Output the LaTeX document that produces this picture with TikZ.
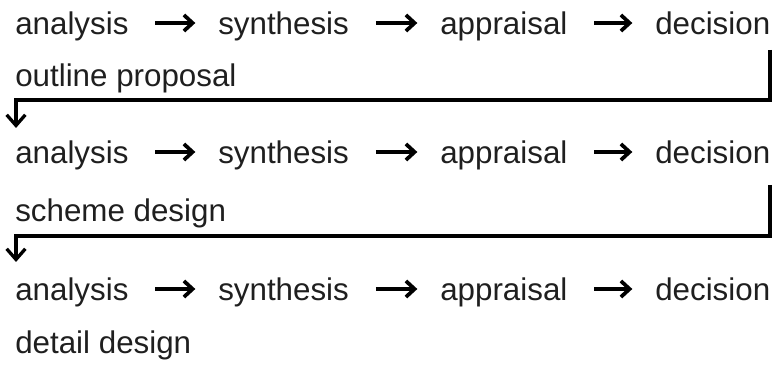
\documentclass[tikz,border=0pt]{standalone}
\usepackage{fontspec}
\setmainfont{Liberation Sans}
\usetikzlibrary{arrows.meta}
\begin{document}
\begin{tikzpicture}[x=0.75pt,y=-0.75pt,
  word/.style={anchor=base west,inner sep=0pt,font=\fontsize{23.5}{28}\selectfont,text=black!88},
  flow/.style={line width=2.8pt,-{Straight Barb[length=6.5pt,width=12pt]},shorten <=20pt,shorten >=17pt},
  back/.style={line width=2.5pt,-{Straight Barb[length=8pt,width=14pt]},line join=miter}]
\useasboundingbox (0,0) rectangle (776,367);
% row 1
\node[word] (an1) at (15,35) {analysis};
\node[word] (sy1) at (218,35) {synthesis};
\node[word] (ap1) at (440,35) {appraisal};
\node[word] (de1) at (655,35) {decision};
\node[word] (st1) at (15,87) {outline proposal};
% row 2
\node[word] (an2) at (15,164) {analysis};
\node[word] (sy2) at (218,164) {synthesis};
\node[word] (ap2) at (440,164) {appraisal};
\node[word] (de2) at (655,164) {decision};
\node[word] (st2) at (15,222) {scheme design};
% row 3
\node[word] (an3) at (15,301) {analysis};
\node[word] (sy3) at (218,301) {synthesis};
\node[word] (ap3) at (440,301) {appraisal};
\node[word] (de3) at (655,301) {decision};
\node[word] (st3) at (15,354) {detail design};
% inline arrows
\foreach \r in {1,2,3}{
  \draw[flow] ([yshift=9pt]an\r.base east) -- ([yshift=9pt]sy\r.base west);
  \draw[flow] ([yshift=9pt]sy\r.base east) -- ([yshift=9pt]ap\r.base west);
  \draw[flow] ([yshift=9pt]ap\r.base east) -- ([yshift=9pt]de\r.base west);
}
% feedback connectors
\coordinate (s1) at (770,50);
\coordinate (t1) at (16,128);
\draw[back] (s1) -- (770,100) -| (t1);
\coordinate (s2) at (770,185);
\coordinate (t2) at (16,262);
\draw[back] (s2) -- (770,236) -| (t2);
\end{tikzpicture}
\end{document}
